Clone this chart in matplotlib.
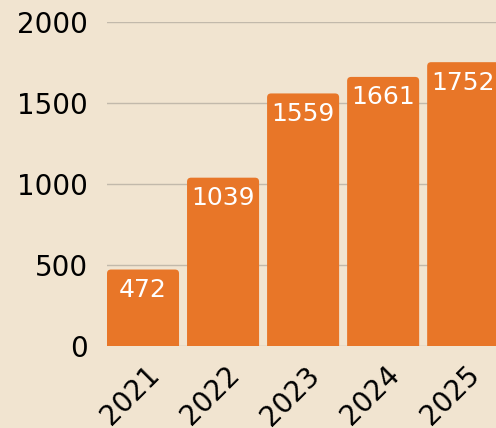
import matplotlib.pyplot as plt
import matplotlib.transforms as mtransforms
from matplotlib.patches import FancyBboxPatch

years = ["2021", "2022", "2023", "2024", "2025"]
values = [472, 1039, 1559, 1661, 1752]

bg = "#F1E4D0"
orange = "#E87628"

fig = plt.figure(figsize=(4.96, 4.28), dpi=100, facecolor=bg)
ax = fig.add_axes([0.2157, 0.1916, 0.7843, 0.757])
ax.set_facecolor(bg)

bars = ax.bar(range(len(years)), values, width=0.9, color=orange, zorder=2)
ax.set_xlim(-0.45, 4.41)
ax.set_ylim(0, 2000)

# swap plain bars for ones with rounded top corners
for b in bars:
    x, w, h = b.get_x(), b.get_width(), b.get_height()
    b.set_visible(False)
    r = 0.05
    p = FancyBboxPatch((x + r, -60), w - 2 * r, h + 60 - 500 * r,
                       boxstyle=f"round,pad={r}", mutation_aspect=500,
                       fc=orange, ec="none", zorder=2, clip_on=True)
    ax.add_patch(p)

for i, v in enumerate(values):
    ax.annotate(str(v), (i, v), xytext=(0, -6), textcoords="offset points",
                ha="center", va="top", color="white", fontsize=18, zorder=3)

ax.set_yticks([0, 500, 1000, 1500, 2000])
ax.set_xticks(range(len(years)))
ax.set_xticklabels(years, rotation=45, ha="right", va="center",
                   rotation_mode="anchor")
ax.tick_params(length=0)
ax.tick_params(axis="y", pad=14, labelsize=20)
ax.tick_params(axis="x", pad=10, labelsize=20)
shift = mtransforms.ScaledTranslation(12 / 100, -11 / 100, fig.dpi_scale_trans)
for lab in ax.get_xticklabels():
    lab.set_transform(lab.get_transform() + shift)
ax.grid(axis="y", color="#C2B9AB", linewidth=1, zorder=0)
for s in ax.spines.values():
    s.set_visible(False)

fig.savefig("out.png", dpi=100, facecolor=bg)
